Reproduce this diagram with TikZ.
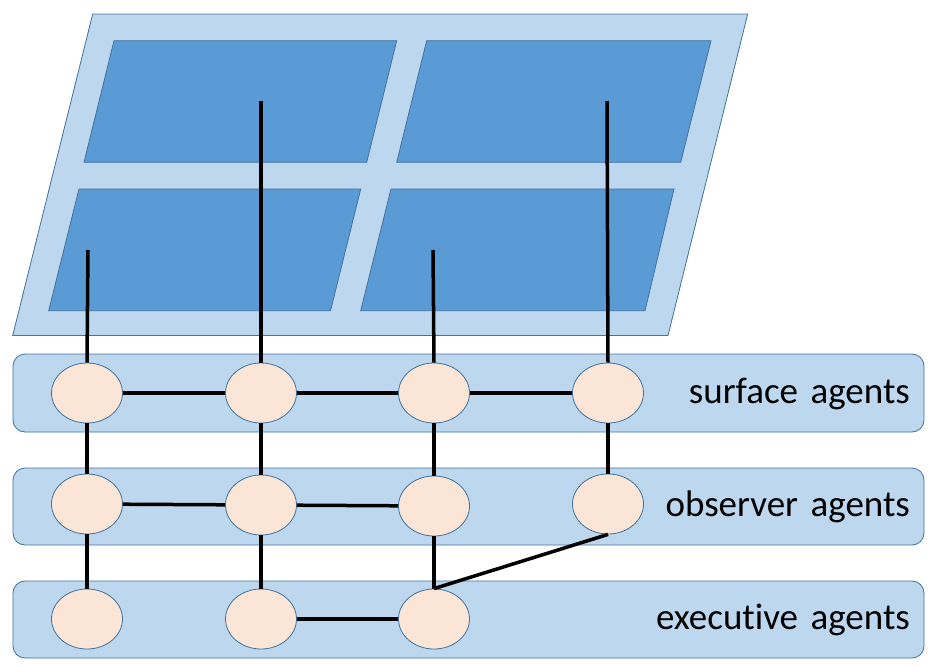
\documentclass[tikz,border=0pt]{standalone}
\usepackage{fontspec}
\setmainfont{Carlito}[Ligatures=NoCommon, WordSpace=1.5]
\usetikzlibrary{shapes.geometric}
\definecolor{paneLight}{HTML}{BDD7EE}
\definecolor{paneDark}{HTML}{5B9BD5}
\definecolor{rimBlue}{HTML}{41719C}
\definecolor{agentFill}{HTML}{FBE5D6}
\begin{document}
\begin{tikzpicture}[x=1pt, y=-1pt]
  \useasboundingbox (0, 0) rectangle (935, 667);  % Bildgroesse wie Vorlage.
  \tikzstyle{frame}=[fill=paneLight, draw=rimBlue, line width=0.8pt]
  \tikzstyle{pane}=[fill=paneDark, draw=rimBlue, line width=0.8pt]
  \tikzstyle{band}=[fill=paneLight, draw=rimBlue, line width=0.8pt, rounded corners=12pt]
  \tikzstyle{agent}=[ellipse, draw=rimBlue, fill=agentFill, line width=0.8pt,
                     minimum width=71pt, minimum height=60pt, inner sep=0pt]
  \tikzstyle{tag}=[anchor=east, inner sep=0pt, font=\fontsize{37}{44}\selectfont]
  \tikzstyle{wire}=[line width=3.5pt]

  % Oberflaeche mit vier Feldern.
  \draw[frame] (92.7, 14) -- (747.7, 14) -- (668, 335.5) -- (12.7, 335.5) -- cycle;
  \draw[pane] (114, 40.7) -- (396.7, 40.7) -- (366.7, 162.3) -- (84, 162.3) -- cycle;
  \draw[pane] (426.7, 40.7) -- (711, 40.7) -- (680.7, 162.3) -- (396.7, 162.3) -- cycle;
  \draw[pane] (79, 189) -- (360.7, 189) -- (330.5, 310.7) -- (48.7, 310.7) -- cycle;
  \draw[pane] (391, 189) -- (674, 189) -- (645, 310.7) -- (360.7, 310.7) -- cycle;

  % Ebenen.
  \draw[band] (13, 354) rectangle (924, 432);
  \draw[band] (13, 468) rectangle (924, 545);
  \draw[band] (13, 581) rectangle (924, 658);

  \node[tag] (surface)   at (910, 394) {surface agents};
  \node[tag] (observer)  at (910, 507) {observer agents};
  \node[tag] (executive) at (910, 620) {executive agents};

  \coordinate (p1) at (88, 250);
  \coordinate (p2) at (261, 101);
  \coordinate (p3) at (433, 250);
  \coordinate (p4) at (607, 101);

  \node[agent] (s1) at (87, 393)  {};
  \node[agent] (s2) at (261, 393) {};
  \node[agent] (s3) at (434, 393) {};
  \node[agent] (s4) at (608, 393) {};
  \node[agent] (o1) at (87, 504)  {};
  \node[agent] (o2) at (261, 505) {};
  \node[agent] (o3) at (434, 506) {};
  \node[agent] (o4) at (608, 504) {};
  \node[agent] (e1) at (87, 619)  {};
  \node[agent] (e2) at (261, 619) {};
  \node[agent] (e3) at (434, 619) {};

  \path[wire] (p1) edge (s1.north);
  \path[wire] (p2) edge (s2.north);
  \path[wire] (p3) edge (s3.north);
  \path[wire] (p4) edge (s4.north);

  \path[wire] (s1) edge (s2);
  \path[wire] (s2) edge (s3);
  \path[wire] (s3) edge (s4);
  \path[wire] (o1) edge (o2);
  \path[wire] (o2) edge (o3);
  \path[wire] (e2) edge (e3);

  \path[wire] (s1) edge (o1);
  \path[wire] (s2) edge (o2);
  \path[wire] (s3) edge (o3);
  \path[wire] (s4) edge (o4);
  \path[wire] (o1) edge (e1);
  \path[wire] (o2) edge (e2);
  \path[wire] (o3) edge (e3);
  \path[wire] (o4.south) edge (e3.north);
\end{tikzpicture}
\end{document}
